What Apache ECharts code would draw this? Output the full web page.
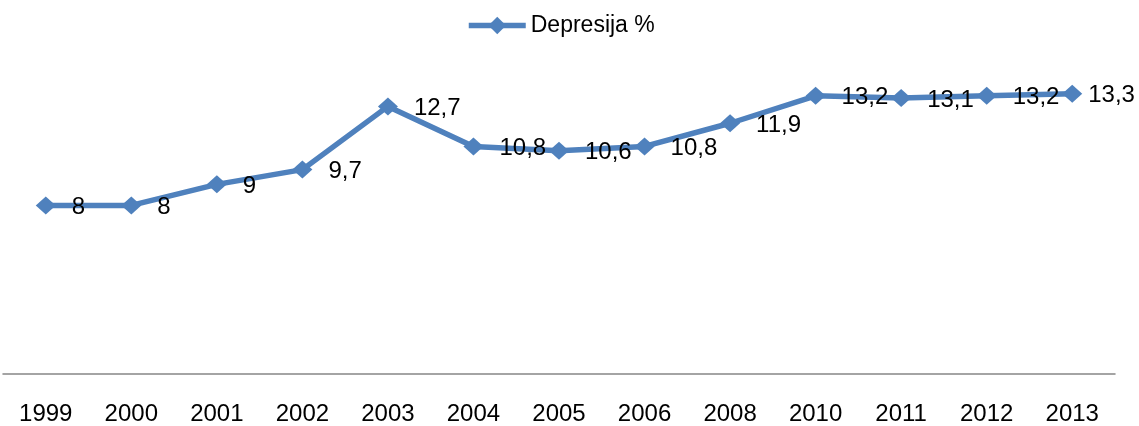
<!DOCTYPE html>
<html><head><meta charset="utf-8">
<script src="https://cdn.jsdelivr.net/npm/echarts@6/dist/echarts.min.js"></script>
<style>html,body{margin:0;padding:0;background:#fff}#c{width:1139px;height:426px}</style>
</head><body><div id="c"></div>
<script>
const categories = ['1999','2000','2001','2002','2003','2004','2005','2006','2008','2010','2011','2012','2013'];
const seriesName = 'Depresija %';
const values = [8, 8, 9, 9.7, 12.7, 10.8, 10.6, 10.8, 11.9, 13.2, 13.1, 13.2, 13.3];

const FONT = 'Liberation Sans';
const BLUE = '#4F81BD';
// last label is pulled closer to its point so it stays inside the chart (as in the reference)
const seriesData = values.map((v, i) =>
  i === values.length - 1 ? { value: v, label: { distance: 6 } } : v);

const chart = echarts.init(document.getElementById('c'));
chart.setOption({
  animation: false,
  textStyle: { fontFamily: FONT },
  legend: {
    top: 14, left: 466, padding: 0,
    itemWidth: 57, itemHeight: 22, itemGap: 10,
    lineStyle: { width: 5.5, color: BLUE },
    textStyle: { fontFamily: FONT, fontSize: 23, color: '#000' },
    data: [seriesName]
  },
  grid: { left: 3, right: 24, top: 79, bottom: 45, containLabel: false },
  xAxis: {
    type: 'category', data: categories, boundaryGap: true,
    axisLine: { lineStyle: { color: '#868686', width: 1.5 } },
    axisTick: { show: false },
    axisLabel: { fontFamily: FONT, fontSize: 24, color: '#000', margin: 28 }
  },
  yAxis: { type: 'value', min: 0, max: 14, show: false, splitLine: { show: false } },
  series: [{
    name: seriesName, type: 'line', data: seriesData,
    symbol: 'diamond', symbolSize: [20, 18], showAllSymbol: true,
    lineStyle: { color: BLUE, width: 5.5 },
    itemStyle: { color: BLUE },
    label: {
      show: true, position: 'right', distance: 16, offset: [0, 2],
      fontFamily: FONT, fontSize: 24, color: '#000',
      formatter: p => String(p.value).replace('.', ',')
    }
  }]
});
</script></body></html>
